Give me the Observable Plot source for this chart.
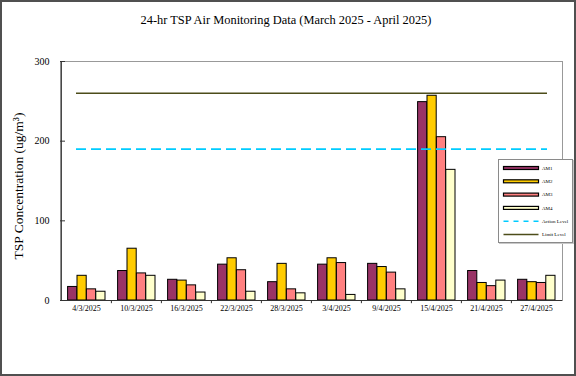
<!DOCTYPE html>
<html>
<head>
<meta charset="utf-8">
<script src="https://cdn.jsdelivr.net/npm/d3@7"></script>
<script src="https://cdn.jsdelivr.net/npm/@observablehq/plot@0.6"></script>
<style>
  body { margin: 0; background: #fff; font-family: "Liberation Serif", serif; }
  #wrap { position: relative; width: 576px; height: 376px; overflow: hidden; }
  #border { position: absolute; left: 0; top: 0; width: 576px; height: 376px; box-sizing: border-box; border: 2px solid #505050; pointer-events: none; }
  #title { position: absolute; left: 0; top: 13px; width: 572px; text-align: center; font-size: 12.4px; color: #000; }
  #legend { position: absolute; left: 498px; top: 159px; width: 75px; height: 84px; box-sizing: border-box; border: 1px solid #8a8a8a; background: #fff; box-shadow: 1px 1px 0 #c8c8c8; }
  #chart { position: absolute; left: 0; top: 0; }
</style>
</head>
<body>
<div id="wrap">
  <div id="chart"></div>
  <div id="title">24-hr TSP Air Monitoring Data (March 2025 - April 2025)</div>
  <div id="legend"></div>
  <div id="border"></div>
</div>
<script>
const dates = ["4/3/2025","10/3/2025","16/3/2025","22/3/2025","28/3/2025","3/4/2025","9/4/2025","15/4/2025","21/4/2025","27/4/2025"];
const am1 = [17, 37, 26, 45, 23, 45, 46, 249, 37, 26];
const am2 = [31, 65, 25, 53, 46, 53, 42, 257, 22, 23];
const am3 = [14, 34, 19, 38, 14, 47, 35, 205, 18, 22];
const am4 = [11, 31, 10, 11, 9, 7, 14, 164, 25, 31];
const seriesNames = ["AM1", "AM2", "AM3", "AM4"];
const seriesColors = ["#993366", "#FFCC00", "#FF8080", "#FFFFCC"];
const actionLevel = 190;
const limitLevel = 260;
const yTicks = [0, 100, 200, 300];
const levelNames = ["Action Level", "Limit Level"];
const actionColor = "#00CCFF";
const limitColor = "#4d4d1a";

const W = 576, H = 376;
const mL = 60, mR = 14, mT = 61, mB = 76;
const innerW = W - mL - mR;
const band = innerW / dates.length;
const barW = 9.4;
const groupStart = 6.6;
const series = [am1, am2, am3, am4];

const barMarks = series.map((vals, k) => Plot.barY(vals, {
  x: dates, y: vals, fill: seriesColors[k], stroke: "#000", strokeWidth: 1,
  insetLeft: groupStart + barW * k,
  insetRight: band - groupStart - barW * (k + 1)
}));

const chart = Plot.plot({
  width: W, height: H,
  marginLeft: mL, marginRight: mR, marginTop: mT, marginBottom: mB,
  style: { fontFamily: "Liberation Serif, serif", background: "transparent", color: "#000" },
  x: { type: "band", domain: dates, padding: 0, axis: null },
  y: { domain: [0, 300], axis: null },
  marks: [
    Plot.frame({ stroke: "#999" }),
    ...barMarks,
    Plot.ruleY([limitLevel], { stroke: limitColor, strokeWidth: 1.5, insetLeft: 16, insetRight: 15 }),
    Plot.ruleY([actionLevel], { stroke: actionColor, strokeWidth: 1.6, strokeDasharray: "10,5", insetLeft: 16, insetRight: 15 }),
    Plot.ruleY([0], { stroke: "#333", strokeWidth: 1 }),
    Plot.ruleX([dates[0]], { y1: 0, y2: 300, dx: -band / 2, stroke: "#333", strokeWidth: 1 }),
    Plot.ruleY(yTicks, { stroke: "#333", insetRight: innerW - 5 }),
    Plot.ruleX(dates.slice(1), { y1: 0, y2: -4, dx: -band / 2, stroke: "#333" }),
    Plot.axisY(yTicks, { tickSize: 0, tickPadding: 11, fontSize: 10, label: null }),
    Plot.axisX({ tickSize: 0, tickPadding: 5, fontSize: 8, label: null }),
    Plot.text(["TSP Concentration (ug/m³)"], { frameAnchor: "left", textAnchor: "middle", rotate: -90, dx: -42, dy: 5, fontSize: 13.5, fill: "#000" })
  ]
});
document.getElementById("chart").appendChild(chart);

// Legend
const lg = d3.select("#legend").append("svg").attr("width", 73).attr("height", 82);
const entries = [
  ...seriesNames.map((n, k) => ({ name: n, type: "bar", color: seriesColors[k] })),
  { name: levelNames[0], type: "dash", color: actionColor },
  { name: levelNames[1], type: "line", color: limitColor }
];
entries.forEach((e, i) => {
  const y = 8 + i * 13.3;
  if (e.type === "bar") {
    lg.append("rect").attr("x", 4.5).attr("y", y - 1.5).attr("width", 35).attr("height", 3)
      .attr("fill", e.color).attr("stroke", "#000").attr("stroke-width", 1.2);
  } else {
    lg.append("line").attr("x1", 4.5).attr("x2", 39.5).attr("y1", y).attr("y2", y)
      .attr("stroke", e.color).attr("stroke-width", 1.5)
      .attr("stroke-dasharray", e.type === "dash" ? "5,5" : null);
  }
  lg.append("text").attr("x", 43).attr("y", y).attr("dy", "0.35em")
    .attr("font-size", 5).attr("font-family", "Liberation Serif, serif").attr("fill", "#000").text(e.name);
});
</script>
</body>
</html>
